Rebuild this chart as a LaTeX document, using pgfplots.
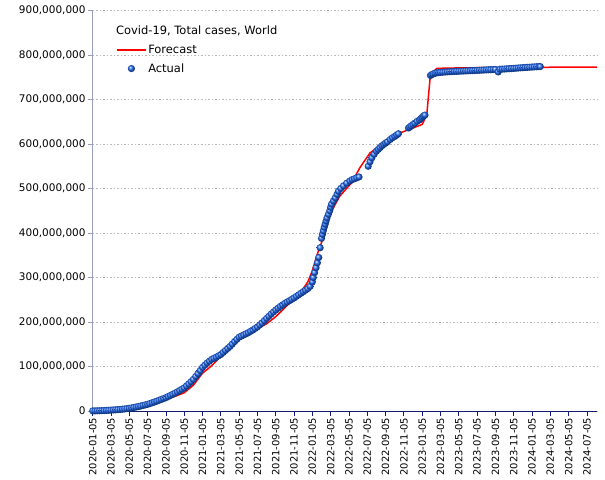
\documentclass[border=0pt]{standalone}
\usepackage{pgfplots}
\pgfplotsset{compat=1.18}
\usepackage{fontspec}
\setmainfont{DejaVu Sans}
\definecolor{ballblue}{RGB}{30,105,245}
\definecolor{navyax}{RGB}{20,30,110}
\definecolor{yaxgray}{RGB}{150,160,190}
\pgfplotsset{
  fclegend/.style={legend image code/.code={\draw[##1] (0bp,0bp) -- (29bp,0bp);}},
  aclegend/.style={legend image code/.code={\draw[##1] plot coordinates {(14.7bp,0bp)};}},
}
\begin{document}
\begin{tikzpicture}
\path[use as bounding box] (-92.7bp,-69bp) rectangle (512.3bp,411bp);
\begin{axis}[
  scale only axis, width=504.3bp, height=400.5bp,
  xmin=0, xmax=55.1, ymin=0, ymax=900,
  axis lines=left, axis line style={-},
  x axis line style={navyax, line width=0.8bp},
  y axis line style={yaxgray, line width=0.8bp},
  xtick={0,2,...,54},
  xticklabels={2020-01-05,2020-03-05,2020-05-05,2020-07-05,2020-09-05,2020-11-05,
    2021-01-05,2021-03-05,2021-05-05,2021-07-05,2021-09-05,2021-11-05,
    2022-01-05,2022-03-05,2022-05-05,2022-07-05,2022-09-05,2022-11-05,
    2023-01-05,2023-03-05,2023-05-05,2023-07-05,2023-09-05,2023-11-05,
    2024-01-05,2024-03-05,2024-05-05,2024-07-05},
  ytick={0,100,...,900},
  yticklabels={0,{100,000,000},{200,000,000},{300,000,000},{400,000,000},{500,000,000},{600,000,000},{700,000,000},{800,000,000},{900,000,000}},
  tick align=outside, major tick length=5bp,
  xtick style={navyax, line width=0.8bp},
  ytick style={yaxgray, line width=0.8bp},
  xticklabel style={rotate=90, anchor=east, font=\fontsize{10}{12}\selectfont, inner sep=1.5bp},
  yticklabel style={font=\fontsize{10.5}{12}\selectfont, inner sep=2bp},
  ymajorgrids, grid style={gray!55, dash pattern=on 1.5bp off 2bp, line width=0.7bp},
  legend style={draw=none, fill=none, at={(0.046,0.919)}, anchor=north west,
    font=\fontsize{11.5}{13}\selectfont, row sep=4.5bp, inner sep=0pt},
  legend cell align=left,
  clip=false,
]
\addlegendimage{red, line width=1.2bp, fclegend}
\addlegendentry{Forecast}
\addlegendimage{only marks, mark=ball, ball color=ballblue, mark size=3.6bp, mark options={draw opacity=0}, aclegend}
\addlegendentry{Actual}

\addplot[only marks, mark=ball, ball color=ballblue, mark size=3.6bp, mark options={draw opacity=0}, forget plot] table {
m v
0 0.2
0.25 0.3
0.5 0.4
0.75 0.6
1 0.8
1.25 1.0
1.5 1.3
1.75 1.6
2 2.0
2.25 2.3
2.5 2.7
2.75 3.1
3 3.5
3.25 4.0
3.5 4.6
3.75 5.3
4 6.0
4.25 7.0
4.5 8.0
4.75 9.0
5 10.0
5.25 11.2
5.5 12.5
5.75 13.7
6 15.0
6.25 16.7
6.5 18.5
6.75 20.2
7 22.0
7.25 24.0
7.5 26.0
7.75 28.0
8 30.0
8.25 32.5
8.5 35.0
8.75 37.5
9 40.0
9.25 43.0
9.5 46.0
9.75 49.0
10 52.0
10.25 56.5
10.5 61.0
10.75 66.0
11 71.0
11.25 77.5
11.5 84.0
11.75 91.0
12 98.0
12.25 103.0
12.5 108.0
12.75 112.0
13 116.0
13.25 118.5
13.5 121.0
13.75 124.0
14 127.0
14.25 131.5
14.5 136.0
14.75 140.5
15 145.0
15.25 150.5
15.5 156.0
15.75 161.0
16 166.0
16.25 168.5
16.5 171.0
16.75 173.5
17 176.0
17.25 179.0
17.5 182.0
17.75 185.5
18 189.0
18.25 193.5
18.5 198.0
18.75 203.0
19 208.0
19.25 213.0
19.5 218.0
19.75 222.5
20 227.0
20.25 231.0
20.5 235.0
20.75 238.5
21 242.0
21.25 245.0
21.5 248.0
21.75 251.0
22 254.0
22.25 257.5
22.5 261.0
22.75 264.5
23 268.0
23.25 271.5
23.5 275.0
23.75 280.0
24.0 290
24.1 300
24.25 311
24.4 322
24.55 333
24.7 345
24.85 367
25.0 388
25.1 397
25.2 405
25.3 413
25.4 420
25.5 427
25.6 434
25.75 442
25.9 450
26.0 458
26.1 465
26.3 472
26.5 479
26.7 487
26.85 494
27.1 500
27.4 506
27.75 512
28.1 517
28.35 520
28.6 522
28.85 524
29.1 526
30.1 550
30.3 560
30.5 569
30.75 577
31.0 584
31.2 588
31.4 592
31.6 596
31.8 599
32.0 602
32.2 605
32.5 610
32.75 614
33.0 617
33.2 620
33.4 623
34.5 636
34.65 638
34.8 641
35.0 644
35.2 647
35.45 651
35.7 654
35.85 657
36.0 660
36.15 663
36.3 665
36.9 754
37.05 756
37.2 757.5
37.4 759
37.6 760
37.8 760.5
38 761
38.25 761.4
38.5 761.8
38.75 762.2
39 762.5
39.25 762.8
39.5 763
39.75 763.3
40 763.5
40.25 763.8
40.5 764
40.75 764.3
41 764.5
41.25 764.8
41.5 765
41.75 765.3
42 765.5
42.25 765.8
42.5 766
42.75 766.3
43 766.5
43.25 766.8
43.5 767
43.75 767.3
44 767.5
44.3 762
44.5 768
44.75 768.3
45 768.5
45.25 768.9
45.5 769.3
45.75 769.6
46 770
46.25 770.4
46.5 770.8
46.75 771.2
47 771.5
47.25 771.9
47.5 772.3
47.75 772.6
48 773
48.25 773.3
48.5 773.6
48.75 773.9
48.9 774
};

\addplot[red, line width=1.5bp, forget plot] table {
m v
0 0
2 0.5
4 2
5 5
6 11
7 18
8 26
9 33
10 41
11 58
12 85
12.9 100
13.5 112
14 124
14.65 137
15 149
16 163
17 175
18 185
19 196
20 212
21 232
22 253
23 275
23.5 290
24 315
24.5 350
25.2 390
25.9 442
27.0 483
28.3 513
29.2 547
30.3 580
31.8 603
33.6 625
35.0 636
36.0 644
36.5 666
36.9 756
37.6 770
40 771
45 772
50 772.5
55.1 773
};
\end{axis}
\node[anchor=base west, inner sep=0pt, font=\fontsize{11.5}{13}\selectfont] at (23.3bp,376bp) {Covid-19, Total cases, World};
\end{tikzpicture}
\end{document}
